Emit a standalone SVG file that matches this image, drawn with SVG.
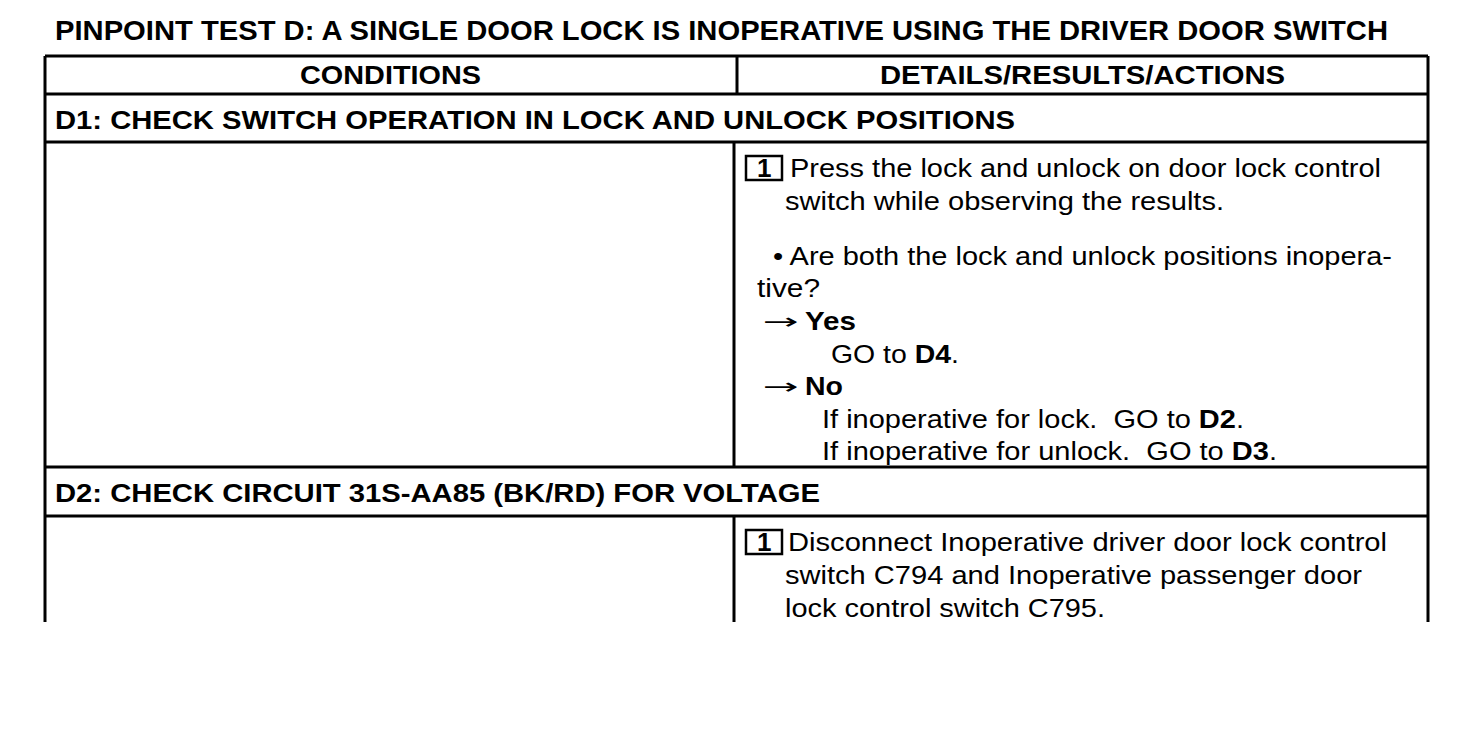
<svg xmlns="http://www.w3.org/2000/svg" width="1472" height="730" viewBox="0 0 1472 730">
<style>
text{font-family:"Liberation Sans",Arial,sans-serif;fill:#000}
.t{font-size:28px;font-weight:bold}
.h{font-size:26px;font-weight:bold}
.b{font-size:26px}
.bb{font-weight:bold}
.ar{font-family:"DejaVu Sans",sans-serif;font-size:22px}
.ln{stroke:#000;stroke-width:3;fill:none}
.box{stroke:#000;stroke-width:2.5;fill:none}
</style>
<rect width="1472" height="730" fill="#fff"/>
<text class="t" x="55" y="40" textLength="1333" lengthAdjust="spacingAndGlyphs">PINPOINT TEST D: A SINGLE DOOR LOCK IS INOPERATIVE USING THE DRIVER DOOR SWITCH</text>
<g id="connectors">
<path class="ln" d="M45 56 H1428 M45 94 H1428 M45 142 H1428 M45 467 H1428 M45 516 H1428"/>
<path class="ln" d="M45 56 V622 M1428 56 V622"/>
<path class="ln" d="M737 56 V94 M734 142 V467 M734 516 V622"/>
</g>
<g id="header">
<text class="h" x="300" y="84" textLength="181" lengthAdjust="spacingAndGlyphs">CONDITIONS</text>
<text class="h" x="880" y="84" textLength="405" lengthAdjust="spacingAndGlyphs">DETAILS/RESULTS/ACTIONS</text>
</g>
<g id="d1-title">
<text class="h" x="55" y="129" textLength="960" lengthAdjust="spacingAndGlyphs">D1: CHECK SWITCH OPERATION IN LOCK AND UNLOCK POSITIONS</text>
</g>
<g id="d1-details">
<rect class="box" x="746" y="156" width="36" height="24"/>
<text class="b bb" x="757" y="177">1</text>
<text class="b" x="790" y="177" textLength="591" lengthAdjust="spacingAndGlyphs">Press the lock and unlock on door lock control</text>
<text class="b" x="785" y="210" textLength="439" lengthAdjust="spacingAndGlyphs">switch while observing the results.</text>
<text class="b" x="773" y="265" textLength="619" lengthAdjust="spacingAndGlyphs">• Are both the lock and unlock positions inopera-</text>
<text class="b" x="757" y="297" textLength="63" lengthAdjust="spacingAndGlyphs">tive?</text>
<text class="ar" x="763" y="329" textLength="36" lengthAdjust="spacingAndGlyphs">→</text>
<text class="b bb" x="805" y="330" textLength="51" lengthAdjust="spacingAndGlyphs">Yes</text>
<text class="b" x="831" y="363" textLength="128" lengthAdjust="spacingAndGlyphs">GO to <tspan class="bb">D4</tspan>.</text>
<text class="ar" x="763" y="394" textLength="36" lengthAdjust="spacingAndGlyphs">→</text>
<text class="b bb" x="805" y="395" textLength="38" lengthAdjust="spacingAndGlyphs">No</text>
<text class="b" x="822" y="428" xml:space="preserve" textLength="422" lengthAdjust="spacingAndGlyphs">If inoperative for lock.  GO to <tspan class="bb">D2</tspan>.</text>
<text class="b" x="822" y="460" xml:space="preserve" textLength="455" lengthAdjust="spacingAndGlyphs">If inoperative for unlock.  GO to <tspan class="bb">D3</tspan>.</text>
</g>
<g id="d2-title">
<text class="h" x="55" y="502" textLength="765" lengthAdjust="spacingAndGlyphs">D2: CHECK CIRCUIT 31S-AA85 (BK/RD) FOR VOLTAGE</text>
</g>
<g id="d2-details">
<rect class="box" x="746" y="530" width="36" height="24"/>
<text class="b bb" x="757" y="551">1</text>
<text class="b" x="788" y="551" textLength="599" lengthAdjust="spacingAndGlyphs">Disconnect Inoperative driver door lock control</text>
<text class="b" x="785" y="584" textLength="577" lengthAdjust="spacingAndGlyphs">switch C794 and Inoperative passenger door</text>
<text class="b" x="785" y="617" textLength="320" lengthAdjust="spacingAndGlyphs">lock control switch C795.</text>
</g>
</svg>
